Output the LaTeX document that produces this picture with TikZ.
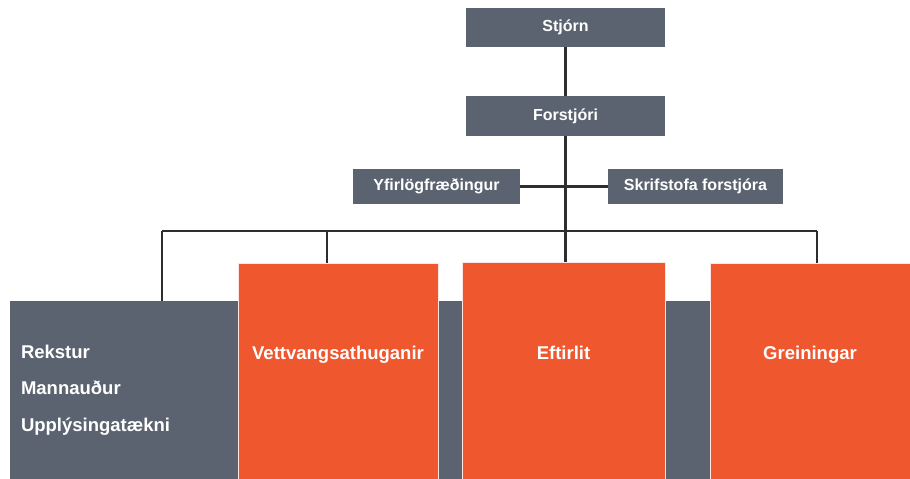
\documentclass[tikz,border=0pt]{standalone}
\usepackage{fontspec}
\setmainfont{Liberation Sans}
\usetikzlibrary{calc}
\usetikzlibrary{positioning}
\definecolor{Gcol}{HTML}{5C6370}
\definecolor{Ocol}{HTML}{EF572E}
\colorlet{Lcol}{black!82}
\tikzset{
  topbox/.style={fill=Gcol,text=white,inner sep=0,
    font=\fontsize{16}{19}\selectfont\bfseries},
  unitbox/.style={fill=Ocol,draw=white!85!Ocol,line width=0.6,text=white,
    anchor=north,inner xsep=0,inner ysep=0,minimum width=200,
    font=\fontsize{18.5}{22}\selectfont\bfseries},
  conn/.style={Lcol,line width=2.4},
}

\begin{document}
\begin{tikzpicture}[x=1pt,y=-1pt]
  \def\bus{231}  % height of the bus line
  \def\band{301} % top of grey band
  \useasboundingbox (0,0) rectangle (910,479);

  % grey band behind the units
  \fill[Gcol] (10,\band) rectangle (710,479);

  % top of the chart
  \node[topbox,minimum width=199,minimum height=39] (stjorn) at (565.5,27.5) {Stjórn};
  \node[topbox,minimum width=199,minimum height=40] (forstjori) at (565.5,116) {Forstjóri};
  \node[topbox,minimum width=167,minimum height=35] (logfr) at (436.5,186.5) {Yfirlögfræðingur};
  \node[topbox,minimum width=175,minimum height=35] (skrifst) at (695.5,186.5) {Skrifstofa forstjóra};

  % units
  \node[fill=Gcol,text=white,inner xsep=11,inner ysep=0,minimum width=228,minimum height=178,
    text width=206,align=left,font=\fontsize{18.5}{36.5}\selectfont\bfseries]
    (rekstur) at (124,390) {Rekstur\\Mannauður\\Upplýsingatækni};
  \node[unitbox,text height=96.5,text depth=119.5] (vettv) at (338,263) {Vettvangsathuganir};
  \node[unitbox,minimum width=203,text height=97,text depth=120] (eftirlit) at (563.5,262) {Eftirlit};
  \node[unitbox,text height=96.5,text depth=119.5] (grein) at (810,263) {Greiningar};

  % connectors
  \coordinate (b1) at (162,\bus);
  \coordinate (b2) at (327,\bus);
  \coordinate (b4) at (817,\bus);
  \draw[conn] (stjorn) -- (forstjori);
  \draw[conn] (forstjori.south) -- (forstjori.south |- eftirlit.north);
  \draw[conn] (logfr) -- (skrifst);
  \draw[conn] (b1) -- (b4);
  \draw[conn] (b1) -- (b1 |- rekstur.north);
  \draw[conn] (b2) -- (b2 |- vettv.north);
  \draw[conn] (b4) -- (b4 |- grein.north);
\end{tikzpicture}
\end{document}
